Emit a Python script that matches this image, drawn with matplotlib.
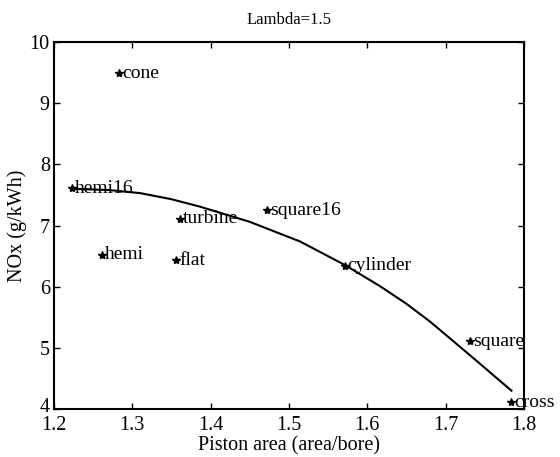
import matplotlib
matplotlib.use('Agg')
import matplotlib.pyplot as plt
import matplotlib.transforms as mtransforms

# piston shapes, measured points
names = ['cone', 'hemi16', 'turbine', 'square16', 'hemi', 'flat', 'cylinder', 'square', 'cross']
area = [1.283, 1.223, 1.361, 1.472, 1.261, 1.356, 1.571, 1.731, 1.784]
nox = [9.49, 7.61, 7.11, 7.25, 6.52, 6.43, 6.34, 5.11, 4.11]

# trend curve
curve_x = [1.223, 1.27, 1.31, 1.35, 1.386, 1.45, 1.514, 1.572, 1.616, 1.65, 1.68, 1.731, 1.784]
curve_y = [7.60, 7.58, 7.53, 7.43, 7.31, 7.06, 6.74, 6.35, 6.01, 5.72, 5.43, 4.88, 4.30]

xticks = [1.2, 1.3, 1.4, 1.5, 1.6, 1.7, 1.8]
yticks = [4, 5, 6, 7, 8, 9, 10]

plt.rcParams['font.family'] = ['Liberation Serif', 'DejaVu Serif']

fig = plt.figure(figsize=(5.6, 4.57), dpi=100)
ax = fig.add_axes([0.0964, 0.105, 0.8393, 0.803])

ax.plot(curve_x, curve_y, color='black', linewidth=1.5)
ax.plot(area, nox, linestyle='none', marker='*', markersize=6, color='black')
for n, x, y in zip(names, area, nox):
    ax.text(x + 0.004, y, n, fontsize=14, va='center', ha='left', clip_on=False)

ax.set_xlim(1.2, 1.8)
ax.set_ylim(4, 10)
ax.set_xticks(xticks)
ax.set_yticks(yticks)
ax.set_xticklabels([str(t) for t in xticks])
ax.set_yticklabels([str(t) for t in yticks])
ax.tick_params(direction='in', length=4, width=1, top=True, right=True, labelsize=14.5)
ax.tick_params(axis='x', pad=5)
ax.tick_params(axis='y', pad=3)
for s in ax.spines.values():
    s.set_linewidth(1.5)

# lift the "4" a little so it sits just above "1.2"
lbl = ax.yaxis.get_major_ticks()[0].label1
lbl.set_transform(lbl.get_transform() + mtransforms.ScaledTranslation(0, 3 / 72, fig.dpi_scale_trans))

ax.set_xlabel('Piston area (area/bore)', fontsize=14.5, labelpad=1)
ax.set_ylabel('NOx (g/kWh)', fontsize=14.5, labelpad=2)
ax.set_title('Lambda=1.5', fontsize=12, pad=13)

fig.savefig('out.png', dpi=100)
